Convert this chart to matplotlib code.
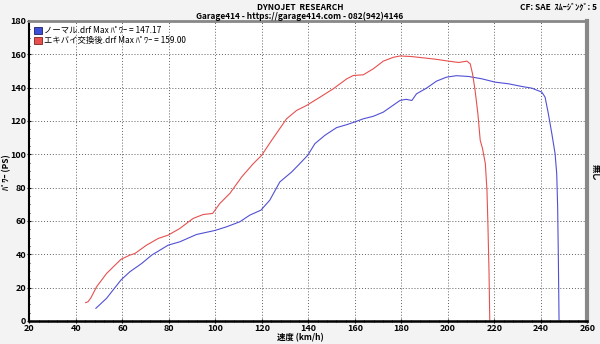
import matplotlib.pyplot as plt
import numpy as np
from matplotlib.patches import Patch

# 速度 (km/h) / パワー (PS)
red_x = [44.2, 45.2, 46.5, 48.9, 53.2, 59.4, 63.2, 65.4, 70.4, 75.4, 79.7, 84.7, 90.4, 94.8, 98.8,
         101.9, 106.2, 111.3, 116.3, 119.9, 124.2, 130.6, 134.9, 139.2, 145.0, 150.7, 156.5, 159.3,
         163.6, 167.9, 172.2, 176.5, 179.4, 184.0, 190.0, 195.0, 200.3, 204.6, 208.2, 209.6, 210.6,
         211.7, 212.9, 213.9, 214.9, 216.1, 216.8, 217.2, 217.7, 218.0]
red_y = [11.0, 11.5, 14.0, 20.5, 28.5, 37.0, 39.5, 40.5, 45.5, 49.5, 51.5, 55.5, 61.5, 63.9, 64.5,
         70.5, 76.5, 86.4, 94.4, 99.4, 108.4, 121.3, 126.3, 129.3, 134.3, 139.3, 145.3, 147.3,
         147.7, 151.3, 155.9, 158.2, 159.0, 158.7, 157.8, 157.0, 155.9, 155.1, 155.9, 154.3, 148.3,
         138.3, 124.3, 108.4, 103.4, 94.4, 78.4, 58.5, 28.5, 0.6]

blue_x = [48.6, 53.2, 56.0, 59.4, 63.2, 68.3, 72.6, 79.7, 84.7, 91.9, 99.8, 104.8, 110.5, 114.8,
          119.6, 123.4, 127.7, 132.8, 136.3, 139.7, 142.8, 147.1, 152.1, 156.5, 159.7, 163.6, 167.9,
          172.2, 176.0, 179.4, 182.0, 184.5, 186.5, 190.8, 195.1, 199.4, 203.7, 208.9, 214.6, 220.3,
          226.1, 231.8, 236.1, 240.4, 241.8, 243.2, 244.7, 246.1, 246.8, 247.2, 247.5, 247.8]
blue_y = [7.6, 13.6, 18.6, 24.6, 29.5, 34.5, 39.5, 45.5, 47.5, 51.9, 54.3, 56.5, 59.5, 63.5,
          66.5, 72.5, 83.4, 89.4, 94.4, 99.4, 106.4, 111.4, 116.0, 117.8, 119.3, 121.3, 122.8,
          125.3, 129.0, 132.3, 133.0, 132.3, 136.3, 139.7, 143.9, 146.3, 147.17, 146.7, 145.3, 143.3,
          142.3, 140.7, 139.7, 137.3, 134.3, 124.4, 112.4, 100.4, 88.4, 68.5, 38.5, 0.6]

legend_labels = ["ノーマル.drf Max ﾊﾟﾜｰ = 147.17", "エキバイ交換後.drf Max ﾊﾟﾜｰ = 159.00"]

plt.rcParams['font.family'] = ['Noto Sans CJK JP', 'DejaVu Sans']

fig = plt.figure(figsize=(6, 3.44), dpi=100, facecolor='#f3f3f3')
ax = fig.add_axes([0.049, 0.067, 0.93, 0.872])
ax.set_facecolor('white')

ax.plot(blue_x, blue_y, color='#5050d4', lw=0.8)
ax.plot(red_x, red_y, color='#e65050', lw=0.8)

ax.set_xlim(20, 260)
ax.set_ylim(0, 180)
ax.set_xticks(np.arange(20, 261, 20))
ax.set_yticks(np.arange(0, 181, 20))
ax.set_xticks(np.arange(20, 261, 4), minor=True)
ax.set_yticks(np.arange(0, 181, 5), minor=True)
ax.tick_params(labelsize=6.5, length=3, width=0.8, direction='inout', pad=1)
ax.tick_params(which='minor', length=2, width=0.6, direction='inout')
for t in ax.get_xticklabels() + ax.get_yticklabels():
    t.set_fontweight('bold')
ax.grid(True, which='major', color='#606060', ls=(0, (1, 2)), lw=0.7)

ax.spines['left'].set_linewidth(1.5)
ax.spines['bottom'].set_linewidth(1.8)
ax.spines['top'].set_color('#888888')
ax.spines['right'].set_color('#888888')
ax.spines['top'].set_linewidth(2)
ax.spines['right'].set_linewidth(3)

handles = [Patch(facecolor='#3c4fd8', edgecolor='#202060', lw=0.6),
           Patch(facecolor='#e85050', edgecolor='#802020', lw=0.6)]
ax.legend(handles, legend_labels, loc='upper left', frameon=False, fontsize=6,
          handlelength=0.9, handleheight=0.9, handletextpad=0.3, labelspacing=0.15,
          borderaxespad=0.2, bbox_to_anchor=(0.0, 1.0))

fig.text(0.5, 0.99, "DYNOJET  RESEARCH", ha='center', va='top', fontsize=6, fontweight='bold')
fig.text(0.5, 0.965, "Garage414 - https://garage414.com - 082(942)4146", ha='center', va='top',
         fontsize=6, fontweight='bold')
fig.text(0.995, 0.99, "CF: SAE  ｽﾑｰｼﾞﾝｸﾞ: 5", ha='right', va='top', fontsize=6, fontweight='bold')
fig.text(0.5, 0.005, "速度 (km/h)", ha='center', va='bottom', fontsize=6, fontweight='bold')
fig.text(0.012, 0.5, "ﾊﾟﾜｰ (PS)", ha='center', va='center', rotation=90, fontsize=6,
         fontweight='bold')
fig.text(0.992, 0.5, "無し", ha='center', va='center', rotation=-90, fontsize=6, fontweight='bold')

fig.savefig('out.png', dpi=100, facecolor=fig.get_facecolor())
